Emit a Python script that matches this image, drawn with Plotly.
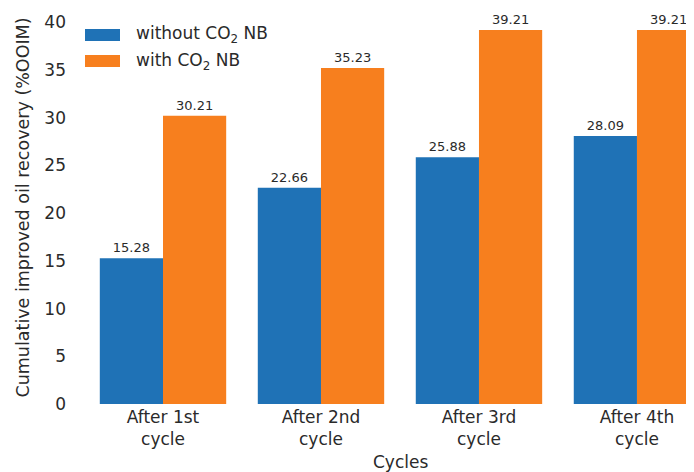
import plotly.graph_objects as go

categories = ["After 1st<br>cycle", "After 2nd<br>cycle", "After 3rd<br>cycle", "After 4th<br>cycle"]
without_nb = [15.28, 22.66, 25.88, 28.09]
with_nb = [30.21, 35.23, 39.21, 39.21]
series_names = ["without CO<sub>2</sub> NB", "with CO<sub>2</sub> NB"]
colors = ["#1f72b6", "#f77f1e"]
y_ticks = [0, 5, 10, 15, 20, 25, 30, 35, 40]

FONT = "DejaVu Sans"
TXT = "#2a2a2a"
FS = 17

# page has an 8px body margin; figure is sized/offset to compensate
W, H = 686, 464
L, T, B = 76, 3, 68
PW = W - L          # plot width in px
PH = H - T - B      # plot height in px

fig = go.Figure()
for vals, name, col in [(without_nb, series_names[0], colors[0]), (with_nb, series_names[1], colors[1])]:
    fig.add_trace(go.Bar(
        x=list(range(len(categories))), y=vals, name=name, marker_color=col,
        marker_line_width=0,
        text=[f"{v:.2f}" for v in vals], textposition="outside",
        textfont=dict(size=13, color=TXT, family=FONT),
        cliponaxis=False, showlegend=False,
    ))

fig.update_layout(
    width=W, height=H,
    margin=dict(l=L, r=0, t=T, b=B),
    paper_bgcolor="white", plot_bgcolor="white",
    barmode="group", bargap=0.2, bargroupgap=0,
    font=dict(family=FONT, size=FS, color=TXT),
)
fig.update_xaxes(
    tickmode="array", tickvals=list(range(len(categories))), ticktext=categories,
    range=[-0.5, 3.361], showgrid=False, zeroline=False, showline=False,
    tickfont=dict(size=FS, color=TXT), ticks="", ticklabelstandoff=1,
    automargin=False,
)
fig.update_yaxes(
    range=[0, 41.2], tickvals=y_ticks, showgrid=False, zeroline=False, showline=False,
    tickfont=dict(size=FS, color=TXT), ticks="", ticklabelstandoff=17,
    title=dict(text="Cumulative improved oil recovery (%OOIM)", font=dict(size=17.5, color=TXT), standoff=10),
    automargin=False,
)

# x-axis title (the axis spans beyond the cropped right edge)
fig.add_annotation(text="Cycles", xref="paper", yref="paper", x=(316) / PW, y=-(462 - 404) / PH,
                   showarrow=False, font=dict(size=17, color=TXT), xanchor="center", yanchor="middle")

# legend drawn manually
leg_y = [35, 61]
for i, (name, col) in enumerate(zip(series_names, colors)):
    yc = 1 - (leg_y[i] - 11) / PH
    fig.add_shape(type="rect", xref="paper", yref="paper",
                  x0=1 / PW, x1=36 / PW,
                  y0=yc - 6 / PH, y1=yc + 6 / PH, fillcolor=col, line_width=0)
    fig.add_annotation(text=name, xref="paper", yref="paper", x=50 / PW, y=yc,
                       xanchor="left", yanchor="middle", showarrow=False,
                       font=dict(size=FS, color=TXT))

fig.write_html("out.html")
